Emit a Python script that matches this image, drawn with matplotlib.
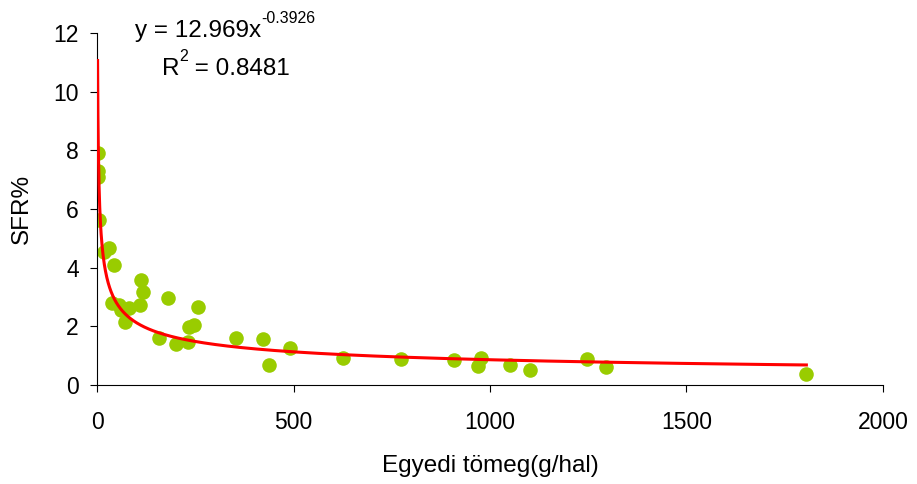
import numpy as np
import matplotlib.pyplot as plt

plt.rcParams['font.family'] = ['Liberation Sans', 'DejaVu Sans']

# measured points: body mass (g/fish) and SFR%
mass = [1.5, 2, 2.5, 6, 18, 31, 43, 39, 57, 60, 82, 71, 109, 112, 116, 181,
        157, 202, 232, 234, 246, 256, 354, 422, 437, 492, 625, 773, 909,
        978, 970, 1050, 1103, 1247, 1296, 1805]
sfr = [7.9, 7.3, 7.1, 5.62, 4.55, 4.66, 4.09, 2.79, 2.73, 2.56, 2.64, 2.16,
       2.73, 3.58, 3.16, 2.98, 1.59, 1.39, 1.46, 1.99, 2.05, 2.67, 1.59,
       1.56, 0.68, 1.25, 0.91, 0.88, 0.84, 0.91, 0.66, 0.67, 0.51, 0.88,
       0.62, 0.37]

# power trendline as printed on the chart
coef_a = 12.969
coef_b = -0.3926
r2 = 0.8481

W, H = 917, 484
fig = plt.figure(figsize=(W / 100, H / 100), dpi=100)
ax = fig.add_axes([97 / W, 1 - 385 / H, 786 / W, 352 / H])

ax.scatter(mass, sfr, s=110, color='#99CC00', zorder=2, linewidths=0)

xt = np.linspace(min(mass), max(mass), 2000)
ax.plot(xt, coef_a * xt ** coef_b, color='red', lw=2.2, zorder=3)

ax.set_xlim(0, 2000)
ax.set_ylim(0, 12)
ax.set_xticks([0, 500, 1000, 1500, 2000])
ax.set_yticks([0, 2, 4, 6, 8, 10, 12])
ax.spines['top'].set_visible(False)
ax.spines['right'].set_visible(False)
ax.tick_params(labelsize=16.5, length=5, direction='out')
ax.tick_params(axis='x', pad=14)
ax.tick_params(axis='y', pad=8)
ax.set_xlabel('Egyedi tömeg(g/hal)', fontsize=17.5, va='center')
ax.set_ylabel('SFR%', fontsize=17.5, va='center')
ax.xaxis.set_label_coords(0.5, (385 - 466) / 352)
ax.yaxis.set_label_coords((22 - 97) / 786, 0.5)

# trendline equation, Excel style (superscripts as separate small texts)
fig.canvas.draw()
r = fig.canvas.get_renderer()


def text_with_sup(x, y, base, sup, after=''):
    t = fig.text(x / W, 1 - y / H, base, fontsize=17.5, va='baseline')
    bb = t.get_window_extent(r)
    s = fig.text(bb.x1 / W, 1 - (y - 14) / H, sup, fontsize=11.5, va='baseline')
    if after:
        sb = s.get_window_extent(r)
        fig.text(sb.x1 / W, 1 - y / H, after, fontsize=17.5, va='baseline')


text_with_sup(135, 37, f'y = {coef_a}x', f'{coef_b}')
text_with_sup(162, 75, 'R', '2', f' = {r2}')

fig.savefig('out.png', dpi=100)
